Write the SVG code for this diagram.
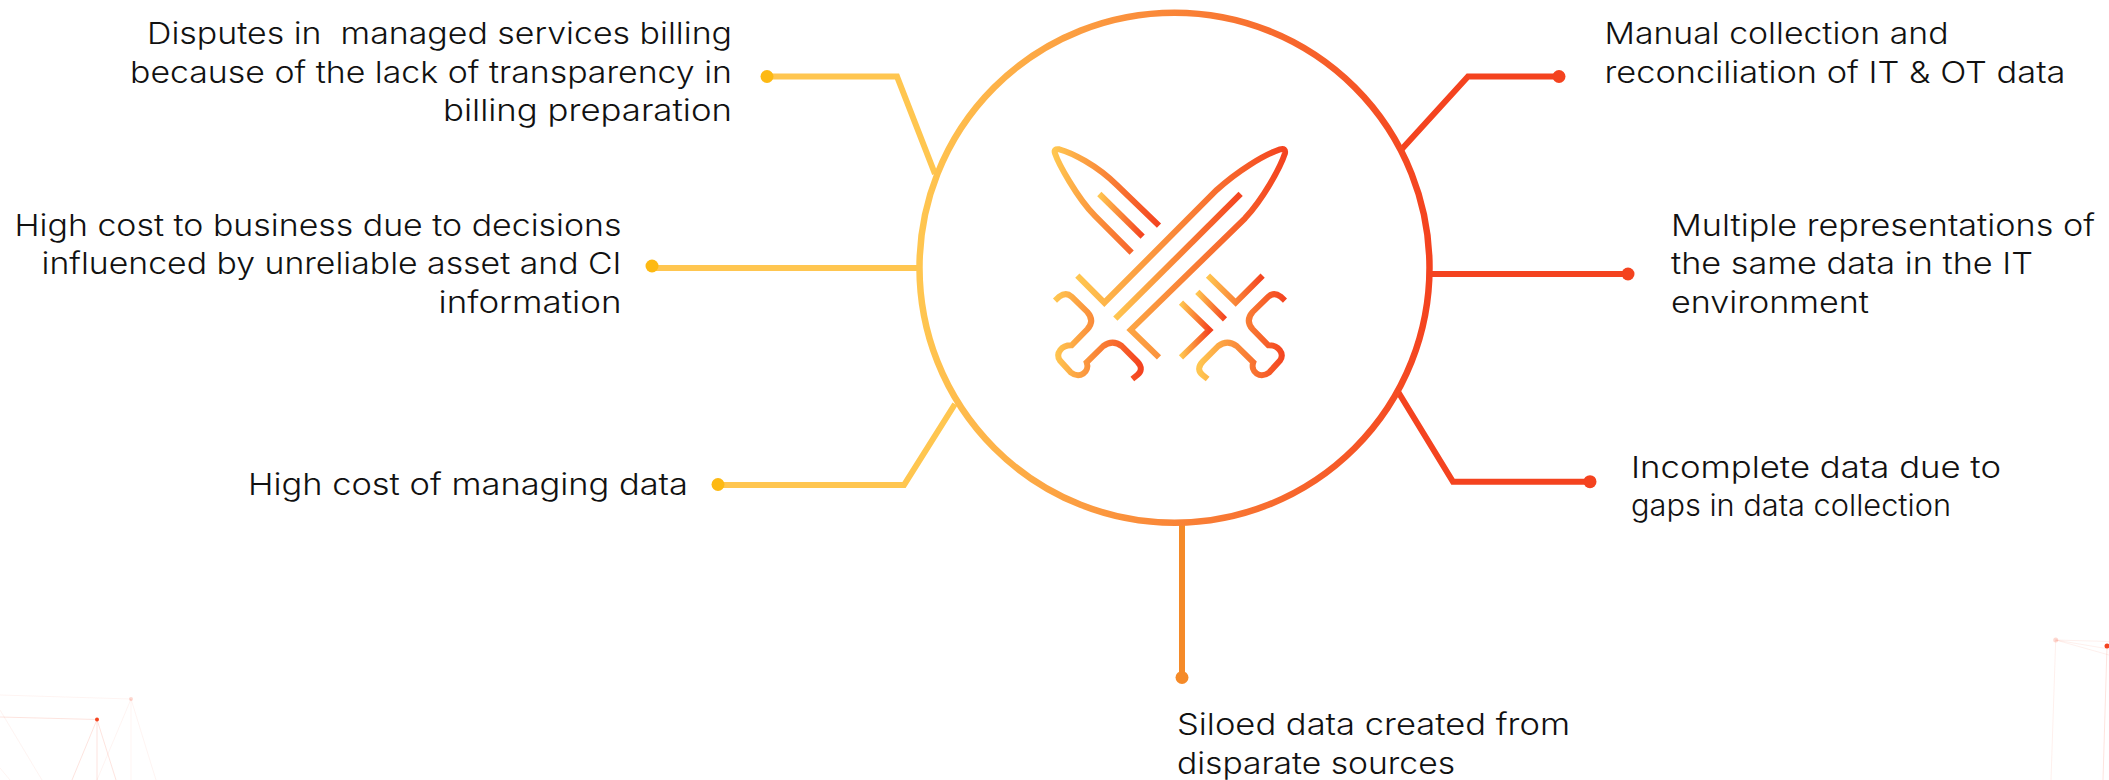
<svg xmlns="http://www.w3.org/2000/svg" width="2109" height="780" viewBox="0 0 2109 780">
<style>
.t{font-family:Inter,"Liberation Sans",sans-serif;font-size:30px;font-weight:300;fill:#111;white-space:pre}
.e{text-anchor:end}
.c{fill:none;stroke-width:6}
.y{stroke:#FFC650}.o{stroke:#F58A28}.r{stroke:#F4431F}
.i{fill:none;stroke:url(#g);stroke-width:18}
.f{fill:none;stroke:#F4431F;stroke-width:1}
</style>
<defs>
<linearGradient id="g" x1="0" y1="0" x2="1" y2="0"><stop offset="0" stop-color="#FFC650"/><stop offset="1" stop-color="#F4431F"/></linearGradient>
</defs>
<g id="decor-left">
<g class="f" opacity=".14"><path d="M0 717L97 719.500M97 719.500L72 780M97 719.500V780M97 719.500L116 780"/></g>
<g class="f" opacity=".06"><path d="M0 695L131 699M131 699L97 780M131 699V780M131 699L156 780M0 710L42 780M0 768L10 780"/></g>
<circle cx="131" cy="699" r="2" fill="#F4431F" opacity=".2"/>
<circle cx="97" cy="719.500" r="2" fill="#F4431F"/>
</g>
<g id="decor-right">
<g class="f" opacity=".08"><path d="M2055.700 640L2109 641.500M2055.700 640L2109 649M2055.700 640L2109 655M2055.700 640L2051 780"/></g>
<path class="f" opacity=".14" d="M2107 646L2103 780"/>
<circle cx="2055.700" cy="640" r="2.500" fill="#F4431F" opacity=".2"/>
<circle cx="2107" cy="646" r="2.500" fill="#F4431F"/>
</g>
<g id="connectors">
<path class="c y" d="M767 76.500H897L935 174"/>
<path class="c y" d="M652 268H921"/>
<path class="c y" d="M718 485H904L955 404"/>
<path class="c r" d="M1559 76.500H1468L1401 150"/>
<path class="c r" d="M1430 274H1627"/>
<path class="c r" d="M1397 390L1453 481.700H1590"/>
<path class="c o" d="M1182 524V677"/>
</g>
<g id="hub">
<circle cx="1174.500" cy="267.700" r="255" fill="none" stroke="url(#g)" stroke-width="6.500"/>
<g transform="translate(1000 110) scale(.3333)">
<path class="i" d="M395 428L285 318C230 262 175 160 165 130Q160 115 178 118C215 128 290 165 350 225L477 347"/>
<path class="i" d="M298 252L428 380"/>
<path class="i" d="M232 497L313 578L650 240C710 185 790 135 840 118Q858 113 855 130C840 175 790 265 735 325L392 660L477 742"/>
<path class="i" d="M346 626L722 252"/>
<path class="i" d="M165 572L178 560Q198 545 215 560L262 606Q285 632 262 658L215 706C185 705 165 730 180 752L212 787C240 808 270 785 260 757L310 708Q338 688 365 708L412 755C428 772 424 785 412 795L397 807"/>
<path class="i" d="M855 572L842 560Q822 545 805 560L758 606Q735 632 758 658L805 706C835 705 855 730 840 752L808 787C780 808 750 785 760 757L710 708Q682 688 655 708L608 755C592 772 596 785 608 795L623 807"/>
<path class="i" d="M624 497L707 578L788 497"/>
<path class="i" d="M592 546L675 628"/>
<path class="i" d="M543 578L628 660L543 742"/>
</g>
</g>
<g id="n1"><circle cx="767" cy="76.500" r="6.500" fill="#FDB913"/>
<text class="t e" x="732" y="43.500" textLength="585" lengthAdjust="spacingAndGlyphs">Disputes in  managed services billing</text>
<text class="t e" x="732" y="82.500" textLength="602" lengthAdjust="spacingAndGlyphs">because of the lack of transparency in</text>
<text class="t e" x="732" y="120.500" textLength="289" lengthAdjust="spacingAndGlyphs">billing preparation</text></g>
<g id="n2"><circle cx="652" cy="266" r="6.500" fill="#FDB913"/>
<text class="t e" x="621.500" y="235.500" textLength="607" lengthAdjust="spacingAndGlyphs">High cost to business due to decisions</text>
<text class="t e" x="621.500" y="274" textLength="580" lengthAdjust="spacingAndGlyphs">influenced by unreliable asset and CI</text>
<text class="t e" x="621.500" y="312.500" textLength="183" lengthAdjust="spacingAndGlyphs">information</text></g>
<g id="n3"><circle cx="718" cy="484.500" r="6.500" fill="#FDB913"/>
<text class="t e" x="688" y="495" textLength="440" lengthAdjust="spacingAndGlyphs">High cost of managing data</text></g>
<g id="n4"><circle cx="1559" cy="76.500" r="6.500" fill="#F4431F"/>
<text class="t" x="1604.500" y="43.500" textLength="344" lengthAdjust="spacingAndGlyphs">Manual collection and</text>
<text class="t" x="1604.500" y="82.500" textLength="461" lengthAdjust="spacingAndGlyphs">reconciliation of IT &amp; OT data</text></g>
<g id="n5"><circle cx="1628" cy="274" r="6.500" fill="#F4431F"/>
<text class="t" x="1671" y="235.500" textLength="424" lengthAdjust="spacingAndGlyphs">Multiple representations of</text>
<text class="t" x="1671" y="274" textLength="362" lengthAdjust="spacingAndGlyphs">the same data in the IT</text>
<text class="t" x="1671" y="312.500" textLength="198" lengthAdjust="spacingAndGlyphs">environment</text></g>
<g id="n6"><circle cx="1590" cy="481.700" r="6.500" fill="#F4431F"/>
<text class="t" x="1631" y="477.500" textLength="370" lengthAdjust="spacingAndGlyphs">Incomplete data due to</text>
<text class="t" x="1631" y="515.500" textLength="320" lengthAdjust="spacingAndGlyphs">gaps in data collection</text></g>
<g id="n7"><circle cx="1182" cy="677.500" r="6.500" fill="#F58A28"/>
<text class="t" x="1177" y="735" textLength="393" lengthAdjust="spacingAndGlyphs">Siloed data created from</text>
<text class="t" x="1177" y="773.500" textLength="278" lengthAdjust="spacingAndGlyphs">disparate sources</text></g>
</svg>
